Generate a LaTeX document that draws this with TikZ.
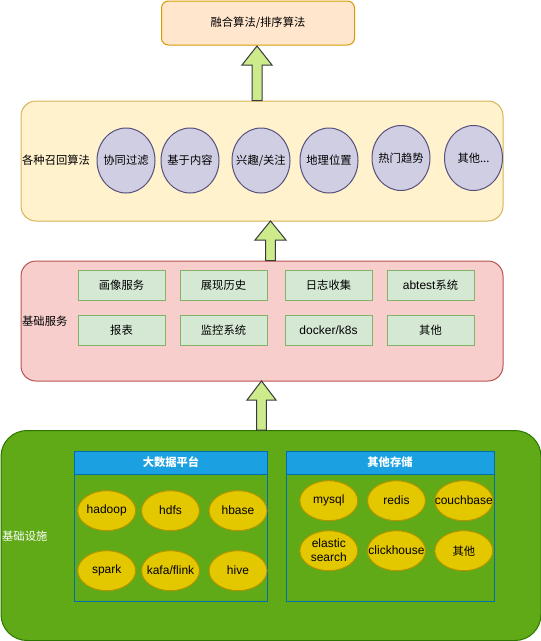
\documentclass[tikz,border=0pt]{standalone}
\usepackage{fontspec}
\setmainfont{Liberation Sans}
\newfontfamily\cjk[Scale=0.94]{Noto Sans CJK SC}
\usetikzlibrary{shapes.geometric,calc}

\definecolor{fusefill}{HTML}{FFE6CC}
\definecolor{fuseline}{HTML}{D79B00}
\definecolor{recallfill}{HTML}{FFF2CC}
\definecolor{recallline}{HTML}{D6B656}
\definecolor{algofill}{HTML}{D0CEE2}
\definecolor{algoline}{HTML}{56517E}
\definecolor{basefill}{HTML}{F8CECC}
\definecolor{baseline}{HTML}{B85450}
\definecolor{svcfill}{HTML}{D5E8D4}
\definecolor{svcline}{HTML}{82B366}
\definecolor{infrafill}{HTML}{60A917}
\definecolor{infraline}{HTML}{2D7600}
\definecolor{lanefill}{HTML}{1BA1E2}
\definecolor{laneline}{HTML}{006EAF}
\definecolor{storefill}{HTML}{E3C800}
\definecolor{storeline}{HTML}{B09500}
\definecolor{arrowfill}{HTML}{CDEB8B}
\definecolor{arrowline}{HTML}{36393D}

\tikzset{
	layer/.style={draw, line width=1pt, rounded corners=15pt, anchor=north west, inner sep=0pt},
	algo/.style={ellipse, draw=algoline, fill=algofill, line width=1pt, minimum width=58pt, minimum height=65pt, inner xsep=-20pt, inner ysep=-10pt, font=\cjk},
	svc/.style={draw=svcline, fill=svcfill, line width=1pt, minimum width=87pt, minimum height=30pt, inner sep=0pt, font=\cjk},
	store/.style={ellipse, draw=storeline, fill=storefill, line width=1pt, minimum width=58pt, minimum height=40pt, inner xsep=-20pt, inner ysep=-10pt, align=center, font=\setlength{\baselineskip}{14pt}},
	lane/.style={draw=laneline, line width=1pt, minimum width=#1, minimum height=150pt, anchor=north west, inner sep=0pt},
	lanehead/.style={draw=laneline, fill=lanefill, line width=1pt, minimum width=#1, minimum height=23pt, anchor=north west, inner sep=0pt, text=white, font=\cjk\bfseries},
	blockarrow/.style={draw=arrowline, fill=arrowfill, line width=1pt},
	caption/.style={anchor=west, inner sep=0pt, font=\cjk}
}

% block arrow: #1 foot, #2 tip, #3 shaft half width, #4 head half width, #5 head length
\newcommand{\liftarrow}[5]{%
	\draw[blockarrow] ($(#1)+(-#3,0)$) -- ($(#2)+(-#3,#5)$) -- ($(#2)+(-#4,#5)$) -- (#2)
		-- ($(#2)+(#4,#5)$) -- ($(#2)+(#3,#5)$) -- ($(#1)+(#3,0)$) -- cycle;}

\begin{document}
\fontsize{12pt}{14pt}\selectfont
\begin{tikzpicture}[x=1pt, y=-1pt]
	\useasboundingbox (0,0) rectangle (541,641);
	%Schichten
	\node (infra) [layer, draw=infraline, fill=infrafill, rounded corners=26pt, minimum width=540pt, minimum height=210pt] at (0.5,430) {};
	\node (base) [layer, draw=baseline, fill=basefill, minimum width=482pt, minimum height=120pt] at (20.5,260.5) {};
	\node (recall) [layer, draw=recallline, fill=recallfill, minimum width=482pt, minimum height=120pt] at (20.5,100.5) {};
	\node (fuse) [layer, draw=fuseline, fill=fusefill, rounded corners=7pt, minimum width=193pt, minimum height=44pt, font=\cjk] at (161,0.5) {融合算法/排序算法};
	%Pfeile
	\coordinate (tip1) at (257,46);
	\coordinate (tip2) at (270.5,221);
	\coordinate (tip3) at (261.5,381);
	\liftarrow{tip1 |- recall.north}{tip1}{5}{15}{19}
	\liftarrow{tip2 |- base.north}{tip2}{4.8}{15.5}{19}
	\liftarrow{tip3 |- infra.north}{tip3}{4.8}{14.5}{19}
	%Recall
	\node (recallLabel) [caption] at (22,160) {各种召回算法};
	\node (cf) [algo] at (126,160.5) {协同过滤};
	\node (content) [algo] at (190,160.5) {基于内容};
	\node (interest) [algo] at (261,160.5) {兴趣/关注};
	\node (geo) [algo] at (329,160.5) {地理位置};
	\node (trend) [algo] at (401,158) {热门趋势};
	\node (otherAlgo) [algo] at (473.5,158) {其他...};
	%Dienste
	\node (baseLabel) [caption] at (22,321) {基础服务};
	\node (profile) [svc] at (121.5,285.5) {画像服务};
	\node (history) [svc] at (223.5,285.5) {展现历史};
	\node (logs) [svc] at (328.5,285.5) {日志收集};
	\node (abtest) [svc] at (430.5,285.5) {{\rmfamily abtest}系统};
	\node (report) [svc] at (121.5,330.5) {报表};
	\node (monitor) [svc] at (223.5,330.5) {监控系统};
	\node (docker) [svc, font=\rmfamily] at (328.5,330.5) {docker/k8s};
	\node (otherSvc) [svc] at (430.5,330.5) {其他};
	%Infrastruktur
	\node (infraLabel) [caption, text=white] at (2,536) {基础设施};
	\node (bigdata) [lane=193pt] at (74,450.5) {};
	\node (bigdataHead) [lanehead=193pt] at (bigdata.north west) {大数据平台};
	\node (storage) [lane=208pt] at (285.5,450.5) {};
	\node (storageHead) [lanehead=208pt] at (storage.north west) {其他存储};
	\node (hadoop) [store] at (106.7,510.7) {hadoop};
	\node (hdfs) [store] at (170.5,510.7) {hdfs};
	\node (hbase) [store] at (238,510.7) {hbase};
	\node (spark) [store] at (106.7,570.7) {spark};
	\node (kafka) [store] at (170.5,570.7) {kafa/flink};
	\node (hive) [store] at (238,570.7) {hive};
	\node (mysql) [store] at (328.8,500.7) {mysql};
	\node (redis) [store] at (396.5,500.7) {redis};
	\node (couchbase) [store] at (463.8,500.7) {couchbase};
	\node (elastic) [store] at (328.8,550.7) {elastic\\search};
	\node (clickhouse) [store] at (396.5,550.7) {clickhouse};
	\node (otherStore) [store, font=\cjk] at (463.8,550.7) {其他};
\end{tikzpicture}
\end{document}
